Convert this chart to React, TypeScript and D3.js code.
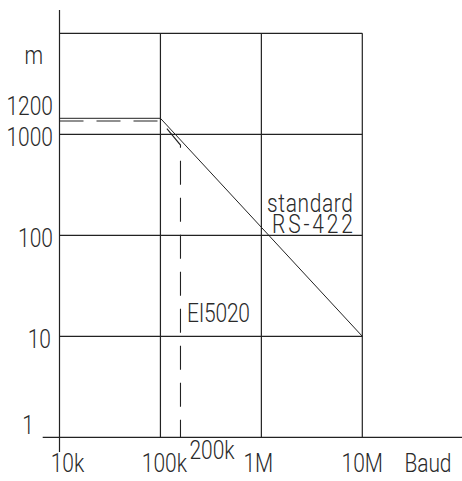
import React from "react";
import * as d3 from "d3";

// cable length (m) against baud rate, log/log
const xTicks = [1e4, 1e5, 1e6, 1e7];
const xTickLabels = ["10k", "100k", "1M", "10M"];
const yTicks = [1, 10, 100, 1000];
const yTickLabels = ["1", "10", "100", "1000"];
const yGrid = [10, 100, 1000, 10000];

const standardBaud = [1e4, 1e5, 1e7];
const standardLength = [1440, 1440, 10];
const eiBaud = [1e4, 1e5, 158000, 158000];
const eiLength = [1355, 1355, 783, 1];

const W = 462, H = 481;
const ink = "#222";
const SX = 0.84;

function Label(props: { x: number; y: number; anchor?: string; width?: number; children: string }) {
  // thin, condensed CAD-like lettering
  return (
    <text
      transform={`translate(${props.x},${props.y}) scale(${SX},1)`}
      textAnchor={props.anchor || "start"}
      fontFamily="Roboto, 'Open Sans', sans-serif"
      fontWeight={300}
      fontSize={25}
      fill="#2a2a2a"
      textLength={props.width ? props.width / SX : undefined}
      lengthAdjust="spacing"
    >
      {props.children}
    </text>
  );
}

export default function App() {
  const x = d3.scaleLog().domain([1e4, 1e7]).range([59.5, 362.3]);
  const y = d3.scaleLog().domain([1, 1e4]).range([437.3, 33.3]);

  const line = d3.line<[number, number]>()
    .x(d => x(d[0]))
    .y(d => y(d[1]));

  const standard = line(standardBaud.map((b, i) => [b, standardLength[i]]));
  const ei = line(eiBaud.map((b, i) => [b, eiLength[i]]));

  return (
    <svg width={W} height={H} style={{ position: "absolute", left: 0, top: 0, background: "white" }}>
      {/* grid */}
      <g stroke={ink} strokeWidth={1.2} fill="none">
        {yGrid.map(v => (
          <line key={"h" + v} x1={x(1e4)} x2={x(1e7)} y1={y(v)} y2={y(v)} />
        ))}
        {xTicks.slice(1).map(v => (
          <line key={"v" + v} x1={x(v)} x2={x(v)} y1={y(1e4)} y2={y(1)} />
        ))}
        {/* axes */}
        <line x1={x(1e4)} x2={x(1e4)} y1={10} y2={452} />
        <line x1={42.7} x2={W} y1={y(1)} y2={y(1)} />
      </g>

      {/* curves */}
      <path d={standard || ""} fill="none" stroke={ink} strokeWidth={1} />
      <path d={ei || ""} fill="none" stroke={ink} strokeWidth={1.1} strokeDasharray="24,13" />

      {/* y labels */}
      <Label x={43} y={64} anchor="end">m</Label>
      <Label x={53} y={115} anchor="end">1200</Label>
      {yTicks.map((v, i) => (
        <Label key={v} x={v === 1 ? 34 : v === 10 ? 51 : 53} y={v === 1 ? y(v) - 3 : y(v) + 12}
          anchor="end">{yTickLabels[i]}</Label>
      ))}

      {/* x labels */}
      {xTicks.map((v, i) => (
        <Label key={v} x={x(v) + (i === 0 ? 8 : i === 1 ? 4 : i === 2 ? -3 : 0)} y={472}
          anchor="middle">{xTickLabels[i]}</Label>
      ))}
      <Label x={212} y={459} anchor="middle">200k</Label>
      <Label x={428} y={472} anchor="middle" width={47}>Baud</Label>

      {/* annotations */}
      <Label x={353} y={212} anchor="end" width={86}>standard</Label>
      <Label x={353} y={233} anchor="end" width={81}>RS-422</Label>
      <Label x={187} y={322} width={63}>EI5020</Label>
    </svg>
  );
}
